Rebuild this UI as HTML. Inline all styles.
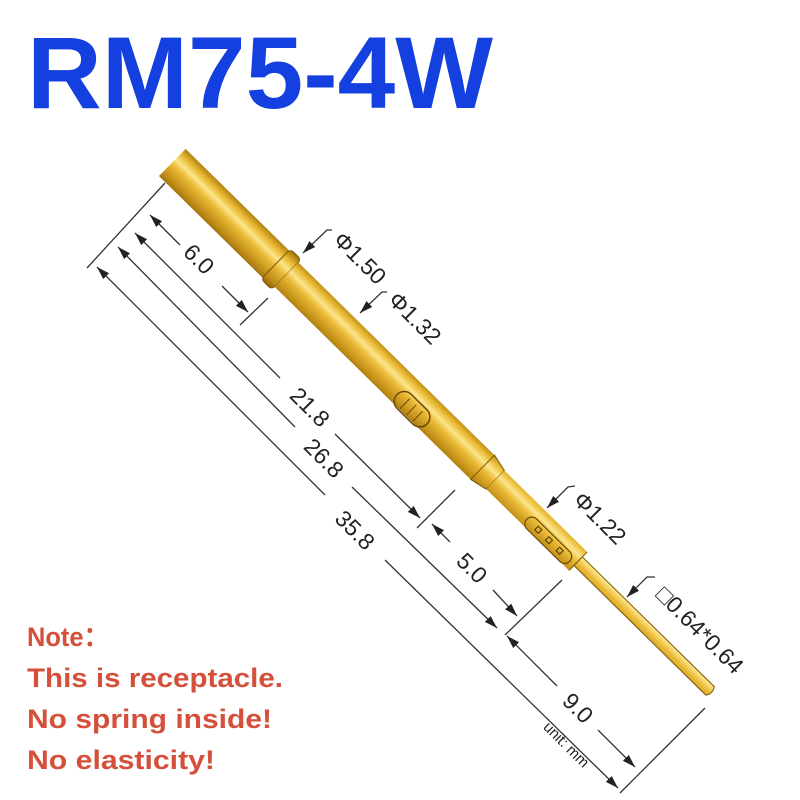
<!DOCTYPE html>
<html><head><meta charset="utf-8"><style>
html,body{margin:0;padding:0;background:#fff;}
svg{display:block;}
</style></head><body>
<svg width="800" height="800" viewBox="0 0 800 800" xmlns="http://www.w3.org/2000/svg">
<defs>
<linearGradient id="g" gradientUnits="userSpaceOnUse" x1="0" y1="-20" x2="0" y2="20">
<stop offset="0" stop-color="#a87a10"/>
<stop offset="0.2" stop-color="#e8b830"/>
<stop offset="0.38" stop-color="#fbe58a"/>
<stop offset="0.55" stop-color="#e9b936"/>
<stop offset="0.85" stop-color="#c08d16"/>
<stop offset="1" stop-color="#9a6e0c"/>
</linearGradient>
<marker id="a" viewBox="0 0 10 10" refX="10" refY="5" markerWidth="13" markerHeight="13" orient="auto-start-reverse" markerUnits="userSpaceOnUse"><path d="M0,1.8 L10,5 L0,8.2 Z" fill="#222"/></marker>
</defs>
<text x="27" y="108" font-family="Liberation Sans, sans-serif" font-weight="bold" font-size="102" fill="#1540e0" textLength="466" lengthAdjust="spacingAndGlyphs">RM75-4W</text>
<g font-family="Liberation Sans, sans-serif" font-weight="bold" font-size="27" fill="#d4503a">
<text x="27" y="646" textLength="82" lengthAdjust="spacingAndGlyphs">Note：</text>
<text x="27" y="687" textLength="256" lengthAdjust="spacingAndGlyphs">This is receptacle.</text>
<text x="27" y="728" textLength="245" lengthAdjust="spacingAndGlyphs">No spring inside!</text>
<text x="27" y="769" textLength="188" lengthAdjust="spacingAndGlyphs">No elasticity!</text>
</g>
<!-- pin -->
<g transform="translate(178,168) rotate(44.5)">
<g stroke="#7a5608" stroke-width="1">
<rect x="-8" y="-19" width="146" height="38" fill="url(#g)" stroke="none"/>
<rect x="137" y="-21" width="15" height="42" rx="4" fill="url(#g)"/>
<rect x="152" y="-17" width="276" height="34" fill="url(#g)" stroke="none"/>
<path d="M427,-17 L445,-13 L445,13 L427,17 Z" fill="url(#g)"/>
<rect x="445" y="-13" width="116" height="26" fill="url(#g)" stroke="none"/>
<line x1="561" y1="-13" x2="561" y2="13"/>
<path d="M561,-6 L746,-6 Q750,0 746,6 L561,6 Z" fill="url(#g)"/>
<rect x="315" y="-2" width="42" height="20" rx="10" fill="none" stroke="#6b4a06" stroke-width="1.5"/>
<line x1="327" y1="2" x2="327" y2="16" stroke="#6b4a06"/>
<line x1="336" y1="2" x2="336" y2="16" stroke="#6b4a06"/>
<line x1="345" y1="2" x2="345" y2="16" stroke="#6b4a06"/>
<rect x="495" y="-1" width="60" height="14" rx="7" fill="none" stroke="#6b4a06" stroke-width="1.2"/>
<rect x="508" y="3" width="5" height="5" fill="none" stroke="#4a3204"/>
<rect x="523" y="3" width="5" height="5" fill="none" stroke="#4a3204"/>
<rect x="538" y="3" width="5" height="5" fill="none" stroke="#4a3204"/>
</g>
</g>
<!-- dimension lines -->
<g stroke="#333" stroke-width="1.3" fill="none">
<line x1="165" y1="183" x2="87" y2="268"/>
<line x1="268" y1="298" x2="240" y2="325"/>
<line x1="455" y1="490" x2="417" y2="528"/>
<line x1="562" y1="580" x2="505" y2="635"/>
<line x1="705" y1="708" x2="620" y2="793"/>
<line x1="150" y1="215" x2="180" y2="245" marker-start="url(#a)"/>
<line x1="222" y1="286" x2="248" y2="312" marker-end="url(#a)"/>
<line x1="135" y1="233" x2="280" y2="378" marker-start="url(#a)"/>
<line x1="335" y1="434" x2="420" y2="518" marker-end="url(#a)"/>
<line x1="432" y1="524" x2="450" y2="542" marker-start="url(#a)"/>
<line x1="493" y1="590" x2="517" y2="616" marker-end="url(#a)"/>
<line x1="118" y1="247" x2="295" y2="427" marker-start="url(#a)"/>
<line x1="352" y1="487" x2="497" y2="628" marker-end="url(#a)"/>
<line x1="507" y1="636" x2="557" y2="686" marker-start="url(#a)"/>
<line x1="598" y1="730" x2="635" y2="767" marker-end="url(#a)"/>
<line x1="97" y1="267" x2="325" y2="495" marker-start="url(#a)"/>
<line x1="385" y1="560" x2="618" y2="788" marker-end="url(#a)"/>
<polyline points="332,230 327,230 303,253" marker-end="url(#a)"/>
<polyline points="387,292 382,292 360,313" marker-end="url(#a)"/>
<polyline points="575,486 568,487 547,508" marker-end="url(#a)"/>
<polyline points="655,577 647,577 627,597" marker-end="url(#a)"/>
</g>
<g font-family="Liberation Sans, DejaVu Sans, sans-serif" font-size="23" fill="#222" text-anchor="middle" dominant-baseline="central">
<text transform="translate(199,259) rotate(45)">6.0</text>
<text transform="translate(310,407) rotate(45)">21.8</text>
<text transform="translate(324,458) rotate(45)">26.8</text>
<text transform="translate(355,530) rotate(45)">35.8</text>
<text transform="translate(472,568) rotate(45)">5.0</text>
<text transform="translate(578,708) rotate(45)">9.0</text>
<text transform="translate(360,258) rotate(45)">Φ1.50</text>
<text transform="translate(415,318) rotate(45)">Φ1.32</text>
<text transform="translate(600,518) rotate(45)">Φ1.22</text>
<text transform="translate(700,630) rotate(45)">□0.64*0.64</text>
<text transform="translate(566,745) rotate(45)" font-size="15">unit: mm</text>
</g>
</svg>
</body></html>
